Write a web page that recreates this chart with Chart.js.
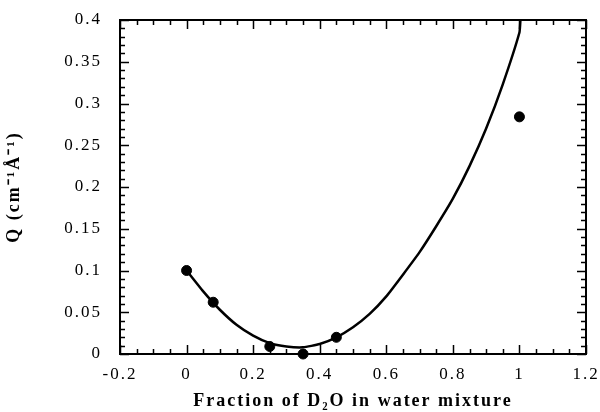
<!DOCTYPE html>
<html>
<head>
<meta charset="utf-8">
<script src="https://cdn.jsdelivr.net/npm/chart.js@4"></script>
<style>
  html, body { margin: 0; padding: 0; background: #fff; }
  #wrap { width: 600px; height: 412px; }
</style>
</head>
<body>
<div id="wrap"><canvas id="myChart" width="600" height="412"></canvas></div>
<script>
'use strict';

// measured points
var pointX = [0, 0.08, 0.25, 0.35, 0.45, 1.0];
var pointY = [0.1, 0.062, 0.009, 0.0, 0.02, 0.284];

// fitted curve
var curveX = [0, 0.05, 0.1, 0.15, 0.2, 0.25, 0.3, 0.35, 0.4, 0.45, 0.5, 0.55, 0.6, 0.65, 0.7, 0.75, 0.8, 0.85, 0.9, 0.95, 1.0, 1.003];
var curveY = [0.1, 0.075, 0.053, 0.035, 0.022, 0.013, 0.009, 0.008, 0.012, 0.02, 0.032, 0.048, 0.069, 0.095, 0.122, 0.153, 0.186, 0.225, 0.27, 0.323, 0.385, 0.4];

var xTickLabels = ['-0.2', '0', '0.2', '0.4', '0.6', '0.8', '1', '1.2'];
var yTickLabels = ['0', '0.05', '0.1', '0.15', '0.2', '0.25', '0.3', '0.35', '0.4'];

function toXY(xs, ys) {
	return xs.map(function(x, i) { return { x: x, y: ys[i] }; });
}

// wider type, like the scanned figure
var spacing = {
	id: 'spacing',
	beforeDraw: function(chart) { chart.ctx.letterSpacing = '2px'; },
	afterDraw: function(chart) { chart.ctx.letterSpacing = '0px'; }
};

// frame with inward ticks on all four sides
var frameTicks = {
	id: 'frameTicks',
	afterDatasetsDraw: function(chart) {
		var ctx = chart.ctx, a = chart.chartArea;
		var xs = chart.scales.x, ys = chart.scales.y;
		ctx.save();
		ctx.strokeStyle = '#000';
		ctx.lineWidth = 2;
		ctx.strokeRect(a.left, a.top, a.right - a.left, a.bottom - a.top);
		ctx.lineWidth = 1.5;
		ctx.beginPath();
		var i, v, p, len;
		for (i = 0; i <= 28; i++) {
			v = -0.2 + i * 0.05;
			p = Math.round(xs.getPixelForValue(v)) + 0.5;
			len = (i % 4 === 0) ? 9 : 5;
			ctx.moveTo(p, a.bottom); ctx.lineTo(p, a.bottom - len);
			ctx.moveTo(p, a.top); ctx.lineTo(p, a.top + len);
		}
		for (i = 0; i <= 40; i++) {
			v = i * 0.01;
			p = Math.round(ys.getPixelForValue(v)) + 0.5;
			len = (i % 5 === 0) ? 9 : 5;
			ctx.moveTo(a.left, p); ctx.lineTo(a.left + len, p);
			ctx.moveTo(a.right, p); ctx.lineTo(a.right - len, p);
		}
		ctx.stroke();
		ctx.restore();
	}
};

var ctx = document.getElementById('myChart');
var chart = new Chart(ctx, {
	type: 'scatter',
	data: {
		datasets: [{
			label: 'fit',
			data: toXY(curveX, curveY),
			showLine: true,
			borderColor: '#000',
			borderWidth: 2.5,
			pointRadius: 0,
			tension: 0.15
		}, {
			label: 'data',
			data: toXY(pointX, pointY),
			backgroundColor: '#000',
			borderColor: '#000',
			pointRadius: 5,
			clip: false
		}]
	},
	options: {
		responsive: false,
		animation: false,
		layout: { padding: { top: 20, right: 14, left: 0, bottom: 0 } },
		plugins: { legend: { display: false }, tooltip: { enabled: false } },
		scales: {
			x: {
				type: 'linear', min: -0.2, max: 1.2,
				grid: { display: false, drawTicks: false },
				border: { display: false },
				afterFit: function(s) { s.height = 58; s.paddingLeft = 0; s.paddingRight = 0; },
				ticks: {
					stepSize: 0.2, padding: 10, color: '#000', maxRotation: 0,
					font: { family: 'Liberation Serif', size: 17 },
					callback: function(v, i) { return xTickLabels[i]; }
				},
				title: {
					display: true, text: 'Fraction of D\u2082O in water mixture', color: '#000',
					font: { family: 'Liberation Serif', size: 18, weight: 'bold' },
					padding: { top: 0, bottom: 0 }
				}
			},
			y: {
				type: 'linear', min: 0, max: 0.4,
				grid: { display: false, drawTicks: false },
				border: { display: false },
				afterFit: function(s) { s.width = 120; s.paddingTop = 0; s.paddingBottom = 0; },
				ticks: {
					stepSize: 0.05, padding: 18, color: '#000',
					font: { family: 'Liberation Serif', size: 17 },
					callback: function(v, i) { return yTickLabels[i]; }
				},
				title: {
					display: true, text: 'Q (cm\u207B\u00B9\u00C5\u207B\u00B9)', color: '#000',
					font: { family: 'Liberation Serif', size: 18, weight: 'bold' },
					padding: { top: 4, bottom: 4 }
				}
			}
		}
	},
	plugins: [spacing, frameTicks]
});
</script>
</body>
</html>
